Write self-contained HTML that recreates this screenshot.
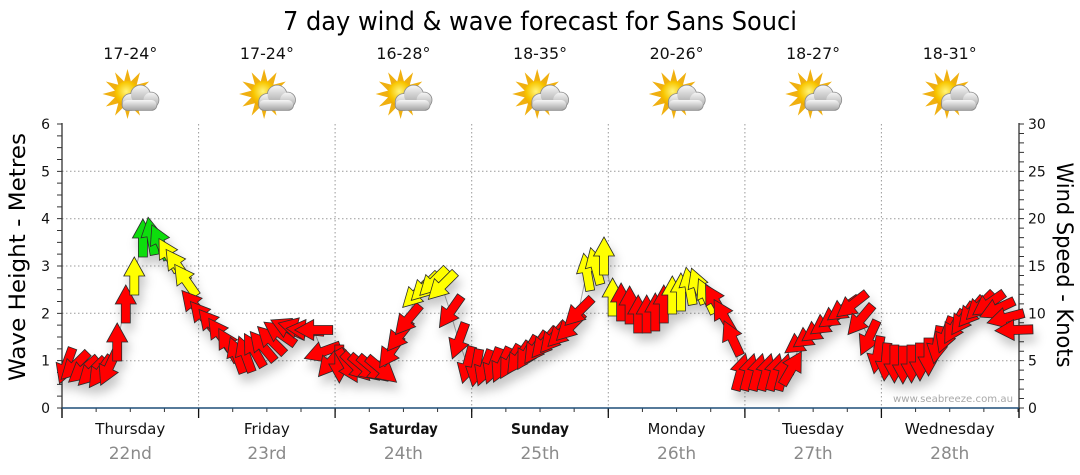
<!DOCTYPE html>
<html><head><meta charset="utf-8"><style>
html,body{margin:0;padding:0;background:#fff;}
svg{display:block;}
</style></head><body>
<svg width="1080" height="475" viewBox="0 0 1080 475" xmlns="http://www.w3.org/2000/svg" font-family="'DejaVu Sans','Liberation Sans',sans-serif">
<defs>
<path id="ar" d="M0,-19 L10.5,0 L4.5,0 L4.5,19 L-4.5,19 L-4.5,0 L-10.5,0 Z"/>
<filter id="sh" x="-10%" y="-20%" width="125%" height="150%"><feDropShadow dx="3" dy="8" stdDeviation="5" flood-color="#000" flood-opacity="0.22"/></filter>
<radialGradient id="sun" cx="0.45" cy="0.4" r="0.6"><stop offset="0" stop-color="#fff47a"/><stop offset="0.6" stop-color="#f8c600"/><stop offset="1" stop-color="#eda000"/></radialGradient>
<linearGradient id="cl" x1="0" y1="0" x2="0" y2="1"><stop offset="0" stop-color="#f6f6f6"/><stop offset="1" stop-color="#a6a6a6"/></linearGradient>
<g id="icon">
<polygon fill="#f0b010" points="0,-25 3.36,-12.56 12.5,-21.65 9.19,-9.19 21.65,-12.5 12.56,-3.36 25,0 12.56,3.36 21.65,12.5 9.19,9.19 12.5,21.65 3.36,12.56 0,25 -3.36,12.56 -12.5,21.65 -9.19,9.19 -21.65,12.5 -12.56,3.36 -25,0 -12.56,-3.36 -21.65,-12.5 -9.19,-9.19 -12.5,-21.65 -3.36,-12.56"/>
<circle r="13" fill="url(#sun)"/>
<g stroke="#8a8a8a" stroke-width="1.6" fill="#8a8a8a">
<circle cx="3" cy="8" r="8"/><circle cx="13" cy="1" r="9.5"/><circle cx="23.5" cy="6" r="7.5"/><rect x="-5" y="6" width="34" height="10" rx="5"/>
</g>
<g fill="url(#cl)">
<circle cx="3" cy="8" r="8"/><circle cx="13" cy="1" r="9.5"/><circle cx="23.5" cy="6" r="7.5"/><rect x="-5" y="6" width="34" height="10" rx="5"/>
</g>
</g>
</defs>

<!-- title -->
<text x="540" y="30" font-size="26" text-anchor="middle" textLength="514" lengthAdjust="spacingAndGlyphs" fill="#000">7 day wind &amp; wave forecast for Sans Souci</text>

<!-- temps -->
<g font-size="16" text-anchor="middle" fill="#111">
<text x="130.3" y="59" textLength="54" lengthAdjust="spacingAndGlyphs">17-24°</text>
<text x="266.9" y="59" textLength="54" lengthAdjust="spacingAndGlyphs">17-24°</text>
<text x="403.4" y="59" textLength="54" lengthAdjust="spacingAndGlyphs">16-28°</text>
<text x="540.0" y="59" textLength="54" lengthAdjust="spacingAndGlyphs">18-35°</text>
<text x="676.6" y="59" textLength="54" lengthAdjust="spacingAndGlyphs">20-26°</text>
<text x="813.1" y="59" textLength="54" lengthAdjust="spacingAndGlyphs">18-27°</text>
<text x="949.7" y="59" textLength="54" lengthAdjust="spacingAndGlyphs">18-31°</text>
</g>

<!-- icons -->
<use href="#icon" transform="translate(127.5 94)"/>
<use href="#icon" transform="translate(264.1 94)"/>
<use href="#icon" transform="translate(400.6 94)"/>
<use href="#icon" transform="translate(537.2 94)"/>
<use href="#icon" transform="translate(673.8 94)"/>
<use href="#icon" transform="translate(810.3 94)"/>
<use href="#icon" transform="translate(946.9 94)"/>

<!-- grid -->
<g stroke="#9a9a9a" stroke-width="1" stroke-dasharray="1.5 2.5" fill="none">
<line x1="62" y1="360.7" x2="1019" y2="360.7"/>
<line x1="62" y1="313.3" x2="1019" y2="313.3"/>
<line x1="62" y1="266" x2="1019" y2="266"/>
<line x1="62" y1="218.7" x2="1019" y2="218.7"/>
<line x1="62" y1="171.3" x2="1019" y2="171.3"/>
<line x1="198.6" y1="124" x2="198.6" y2="408"/>
<line x1="335.1" y1="124" x2="335.1" y2="408"/>
<line x1="471.7" y1="124" x2="471.7" y2="408"/>
<line x1="608.3" y1="124" x2="608.3" y2="408"/>
<line x1="744.9" y1="124" x2="744.9" y2="408"/>
<line x1="881.4" y1="124" x2="881.4" y2="408"/>
</g>

<!-- axes -->
<line x1="62" y1="123" x2="62" y2="418" stroke="#222" stroke-width="1.2"/>
<line x1="1019" y1="123" x2="1019" y2="418" stroke="#222" stroke-width="1.2"/>
<line x1="59.5" y1="408.5" x2="59.5" y2="123" stroke="#333" stroke-width="5" stroke-dasharray="1 10.8333"/>
<line x1="1021.5" y1="408.5" x2="1021.5" y2="123" stroke="#333" stroke-width="5" stroke-dasharray="1 8.4667"/>
<line x1="61.5" y1="410" x2="1020" y2="410" stroke="#333" stroke-width="4" stroke-dasharray="1 33.143"/>
<g stroke="#111" stroke-width="1.3">
<line x1="62" y1="408" x2="62" y2="418"/>
<line x1="198.6" y1="408" x2="198.6" y2="418"/>
<line x1="335.1" y1="408" x2="335.1" y2="418"/>
<line x1="471.7" y1="408" x2="471.7" y2="418"/>
<line x1="608.3" y1="408" x2="608.3" y2="418"/>
<line x1="744.9" y1="408" x2="744.9" y2="418"/>
<line x1="881.4" y1="408" x2="881.4" y2="418"/>
<line x1="1019" y1="408" x2="1019" y2="418"/>
</g>
<line x1="62" y1="408" x2="1019" y2="408" stroke="#1f4e79" stroke-width="1.6"/>

<!-- tick labels -->
<g font-size="14" fill="#111" text-anchor="end">
<text x="50" y="413">0</text><text x="50" y="365.7">1</text><text x="50" y="318.3">2</text><text x="50" y="271">3</text><text x="50" y="223.7">4</text><text x="50" y="176.3">5</text><text x="50" y="129">6</text>
</g>
<g font-size="14" fill="#111">
<text x="1028" y="413">0</text><text x="1028" y="365.7">5</text><text x="1028" y="318.3">10</text><text x="1028" y="271">15</text><text x="1028" y="223.7">20</text><text x="1028" y="176.3">25</text><text x="1028" y="129">30</text>
</g>

<!-- axis titles -->
<text transform="translate(25 257) rotate(-90)" font-size="22" text-anchor="middle" textLength="248" lengthAdjust="spacingAndGlyphs" fill="#000">Wave Height - Metres</text>
<text transform="translate(1057 265) rotate(90)" font-size="22" text-anchor="middle" textLength="205" lengthAdjust="spacingAndGlyphs" fill="#000">Wind Speed - Knots</text>

<!-- day labels -->
<g font-size="15" text-anchor="middle" fill="#111">
<text x="130.3" y="434" textLength="70" lengthAdjust="spacingAndGlyphs">Thursday</text>
<text x="266.9" y="434" textLength="46" lengthAdjust="spacingAndGlyphs">Friday</text>
<text x="403.4" y="434" font-weight="bold" textLength="69" lengthAdjust="spacingAndGlyphs">Saturday</text>
<text x="540.0" y="434" font-weight="bold" textLength="58" lengthAdjust="spacingAndGlyphs">Sunday</text>
<text x="676.6" y="434" textLength="58" lengthAdjust="spacingAndGlyphs">Monday</text>
<text x="813.1" y="434" textLength="62" lengthAdjust="spacingAndGlyphs">Tuesday</text>
<text x="949.7" y="434" textLength="90" lengthAdjust="spacingAndGlyphs">Wednesday</text>
</g>
<g font-size="17" text-anchor="middle" fill="#8a8a8a">
<text x="130.3" y="459">22nd</text>
<text x="266.9" y="459">23rd</text>
<text x="403.4" y="459">24th</text>
<text x="540.0" y="459">25th</text>
<text x="676.6" y="459">26th</text>
<text x="813.1" y="459">27th</text>
<text x="949.7" y="459">28th</text>
</g>

<!-- watermark -->
<text x="893" y="402" font-size="10" fill="#a8a8a8" textLength="120" lengthAdjust="spacingAndGlyphs">www.seabreeze.com.au</text>

<!-- connecting line -->
<polyline fill="none" stroke="#aaa" stroke-width="1" points="66,366 74.5,366 83.1,370 91.6,372 100.2,372 108.7,368 117.2,342 125.8,304 134.3,276 142.9,238 151.4,236 159.9,242 168.5,255 177,265 185.6,280 194.1,305 202.6,316 211.2,324 219.7,334 228.3,345 236.8,355 245.3,354 253.9,350 262.4,346 271,340 279.5,333 288,328 296.6,328 305.1,330 313.7,330 322.2,352 330.7,362 339.3,364 347.8,366 356.4,367 364.9,368 373.4,369 382,370 390.5,352 399.1,336 407.6,320 416.1,294 424.7,287 433.2,282 441.8,286 450.3,312 458.8,341 467.4,365 475.9,368 484.5,368 493,366 501.5,365 510.1,362 518.6,358 527.2,353 535.7,348 544.2,343 552.8,338 561.3,333 569.9,327 578.4,312 586.9,272 595.5,266 604,256 612.6,297 621.1,302 629.6,305 638.2,314 646.7,314 655.3,312 663.8,304 672.3,295 680.9,292 689.4,286 698,286 706.5,296 715,301 723.6,316 732.1,338 740.7,372 749.2,372 757.7,372 766.3,372 774.8,372 783.4,372 791.9,368 800.4,342 809,336 817.5,330 826.1,323 834.6,316 843.1,309 851.7,305 860.2,320 868.8,338 877.3,355 885.8,362 894.4,364 902.9,365 911.5,364 920,362 928.5,357 937.1,345 945.6,335 954.2,327 962.7,319 971.2,312 979.8,306 988.3,304 996.9,309 1005.4,318 1013.9,330"/>

<!-- arrows -->
<g filter="url(#sh)" stroke="#2a2a2a" stroke-width="0.8" stroke-linejoin="miter">
<use href="#ar" fill="#ff0000" transform="translate(66 366) rotate(200)"/>
<use href="#ar" fill="#ff0000" transform="translate(74.5 366) rotate(225)"/>
<use href="#ar" fill="#ff0000" transform="translate(83.1 370) rotate(230)"/>
<use href="#ar" fill="#ff0000" transform="translate(91.6 372) rotate(225)"/>
<use href="#ar" fill="#ff0000" transform="translate(100.2 372) rotate(215)"/>
<use href="#ar" fill="#ff0000" transform="translate(108.7 368) rotate(205)"/>
<use href="#ar" fill="#ff0000" transform="translate(117.2 342) rotate(0)"/>
<use href="#ar" fill="#ff0000" transform="translate(125.8 304) rotate(0)"/>
<use href="#ar" fill="#ffff00" transform="translate(134.3 276) rotate(0)"/>
<use href="#ar" fill="#11dd11" transform="translate(142.9 238) rotate(0)"/>
<use href="#ar" fill="#11dd11" transform="translate(151.4 236) rotate(-10)"/>
<use href="#ar" fill="#11dd11" transform="translate(159.9 242) rotate(-25)"/>
<use href="#ar" fill="#ffff00" transform="translate(168.5 255) rotate(-30)"/>
<use href="#ar" fill="#ffff00" transform="translate(177 265) rotate(-35)"/>
<use href="#ar" fill="#ffff00" transform="translate(185.6 280) rotate(-35)"/>
<use href="#ar" fill="#ff0000" transform="translate(194.1 305) rotate(-40)"/>
<use href="#ar" fill="#ff0000" transform="translate(202.6 316) rotate(-40)"/>
<use href="#ar" fill="#ff0000" transform="translate(211.2 324) rotate(-40)"/>
<use href="#ar" fill="#ff0000" transform="translate(219.7 334) rotate(-35)"/>
<use href="#ar" fill="#ff0000" transform="translate(228.3 345) rotate(-30)"/>
<use href="#ar" fill="#ff0000" transform="translate(236.8 355) rotate(-20)"/>
<use href="#ar" fill="#ff0000" transform="translate(245.3 354) rotate(-20)"/>
<use href="#ar" fill="#ff0000" transform="translate(253.9 350) rotate(-30)"/>
<use href="#ar" fill="#ff0000" transform="translate(262.4 346) rotate(-40)"/>
<use href="#ar" fill="#ff0000" transform="translate(271 340) rotate(-45)"/>
<use href="#ar" fill="#ff0000" transform="translate(279.5 333) rotate(-55)"/>
<use href="#ar" fill="#ff0000" transform="translate(288 328) rotate(-65)"/>
<use href="#ar" fill="#ff0000" transform="translate(296.6 328) rotate(-75)"/>
<use href="#ar" fill="#ff0000" transform="translate(305.1 330) rotate(-85)"/>
<use href="#ar" fill="#ff0000" transform="translate(313.7 330) rotate(-90)"/>
<use href="#ar" fill="#ff0000" transform="translate(322.2 352) rotate(-110)"/>
<use href="#ar" fill="#ff0000" transform="translate(330.7 362) rotate(-140)"/>
<use href="#ar" fill="#ff0000" transform="translate(339.3 364) rotate(180)"/>
<use href="#ar" fill="#ff0000" transform="translate(347.8 366) rotate(150)"/>
<use href="#ar" fill="#ff0000" transform="translate(356.4 367) rotate(135)"/>
<use href="#ar" fill="#ff0000" transform="translate(364.9 368) rotate(130)"/>
<use href="#ar" fill="#ff0000" transform="translate(373.4 369) rotate(130)"/>
<use href="#ar" fill="#ff0000" transform="translate(382 370) rotate(130)"/>
<use href="#ar" fill="#ff0000" transform="translate(390.5 352) rotate(215)"/>
<use href="#ar" fill="#ff0000" transform="translate(399.1 336) rotate(218)"/>
<use href="#ar" fill="#ff0000" transform="translate(407.6 320) rotate(220)"/>
<use href="#ar" fill="#ffff00" transform="translate(416.1 294) rotate(225)"/>
<use href="#ar" fill="#ffff00" transform="translate(424.7 287) rotate(225)"/>
<use href="#ar" fill="#ffff00" transform="translate(433.2 282) rotate(225)"/>
<use href="#ar" fill="#ffff00" transform="translate(441.8 286) rotate(225)"/>
<use href="#ar" fill="#ff0000" transform="translate(450.3 312) rotate(215)"/>
<use href="#ar" fill="#ff0000" transform="translate(458.8 341) rotate(200)"/>
<use href="#ar" fill="#ff0000" transform="translate(467.4 365) rotate(195)"/>
<use href="#ar" fill="#ff0000" transform="translate(475.9 368) rotate(190)"/>
<use href="#ar" fill="#ff0000" transform="translate(484.5 368) rotate(200)"/>
<use href="#ar" fill="#ff0000" transform="translate(493 366) rotate(200)"/>
<use href="#ar" fill="#ff0000" transform="translate(501.5 365) rotate(205)"/>
<use href="#ar" fill="#ff0000" transform="translate(510.1 362) rotate(210)"/>
<use href="#ar" fill="#ff0000" transform="translate(518.6 358) rotate(215)"/>
<use href="#ar" fill="#ff0000" transform="translate(527.2 353) rotate(210)"/>
<use href="#ar" fill="#ff0000" transform="translate(535.7 348) rotate(215)"/>
<use href="#ar" fill="#ff0000" transform="translate(544.2 343) rotate(220)"/>
<use href="#ar" fill="#ff0000" transform="translate(552.8 338) rotate(220)"/>
<use href="#ar" fill="#ff0000" transform="translate(561.3 333) rotate(225)"/>
<use href="#ar" fill="#ff0000" transform="translate(569.9 327) rotate(225)"/>
<use href="#ar" fill="#ff0000" transform="translate(578.4 312) rotate(225)"/>
<use href="#ar" fill="#ffff00" transform="translate(586.9 272) rotate(-10)"/>
<use href="#ar" fill="#ffff00" transform="translate(595.5 266) rotate(-15)"/>
<use href="#ar" fill="#ffff00" transform="translate(604 256) rotate(0)"/>
<use href="#ar" fill="#ffff00" transform="translate(612.6 297) rotate(0)"/>
<use href="#ar" fill="#ff0000" transform="translate(621.1 302) rotate(0)"/>
<use href="#ar" fill="#ff0000" transform="translate(629.6 305) rotate(0)"/>
<use href="#ar" fill="#ff0000" transform="translate(638.2 314) rotate(0)"/>
<use href="#ar" fill="#ff0000" transform="translate(646.7 314) rotate(0)"/>
<use href="#ar" fill="#ff0000" transform="translate(655.3 312) rotate(0)"/>
<use href="#ar" fill="#ff0000" transform="translate(663.8 304) rotate(0)"/>
<use href="#ar" fill="#ffff00" transform="translate(672.3 295) rotate(0)"/>
<use href="#ar" fill="#ffff00" transform="translate(680.9 292) rotate(0)"/>
<use href="#ar" fill="#ffff00" transform="translate(689.4 286) rotate(-10)"/>
<use href="#ar" fill="#ffff00" transform="translate(698 286) rotate(-20)"/>
<use href="#ar" fill="#ffff00" transform="translate(706.5 296) rotate(-25)"/>
<use href="#ar" fill="#ff0000" transform="translate(715 301) rotate(-30)"/>
<use href="#ar" fill="#ff0000" transform="translate(723.6 316) rotate(-30)"/>
<use href="#ar" fill="#ff0000" transform="translate(732.1 338) rotate(-25)"/>
<use href="#ar" fill="#ff0000" transform="translate(740.7 372) rotate(15)"/>
<use href="#ar" fill="#ff0000" transform="translate(749.2 372) rotate(15)"/>
<use href="#ar" fill="#ff0000" transform="translate(757.7 372) rotate(15)"/>
<use href="#ar" fill="#ff0000" transform="translate(766.3 372) rotate(15)"/>
<use href="#ar" fill="#ff0000" transform="translate(774.8 372) rotate(15)"/>
<use href="#ar" fill="#ff0000" transform="translate(783.4 372) rotate(15)"/>
<use href="#ar" fill="#ff0000" transform="translate(791.9 368) rotate(30)"/>
<use href="#ar" fill="#ff0000" transform="translate(800.4 342) rotate(235)"/>
<use href="#ar" fill="#ff0000" transform="translate(809 336) rotate(235)"/>
<use href="#ar" fill="#ff0000" transform="translate(817.5 330) rotate(235)"/>
<use href="#ar" fill="#ff0000" transform="translate(826.1 323) rotate(235)"/>
<use href="#ar" fill="#ff0000" transform="translate(834.6 316) rotate(235)"/>
<use href="#ar" fill="#ff0000" transform="translate(843.1 309) rotate(235)"/>
<use href="#ar" fill="#ff0000" transform="translate(851.7 305) rotate(232)"/>
<use href="#ar" fill="#ff0000" transform="translate(860.2 320) rotate(220)"/>
<use href="#ar" fill="#ff0000" transform="translate(868.8 338) rotate(205)"/>
<use href="#ar" fill="#ff0000" transform="translate(877.3 355) rotate(190)"/>
<use href="#ar" fill="#ff0000" transform="translate(885.8 362) rotate(185)"/>
<use href="#ar" fill="#ff0000" transform="translate(894.4 364) rotate(180)"/>
<use href="#ar" fill="#ff0000" transform="translate(902.9 365) rotate(180)"/>
<use href="#ar" fill="#ff0000" transform="translate(911.5 364) rotate(180)"/>
<use href="#ar" fill="#ff0000" transform="translate(920 362) rotate(180)"/>
<use href="#ar" fill="#ff0000" transform="translate(928.5 357) rotate(180)"/>
<use href="#ar" fill="#ff0000" transform="translate(937.1 345) rotate(190)"/>
<use href="#ar" fill="#ff0000" transform="translate(945.6 335) rotate(200)"/>
<use href="#ar" fill="#ff0000" transform="translate(954.2 327) rotate(210)"/>
<use href="#ar" fill="#ff0000" transform="translate(962.7 319) rotate(215)"/>
<use href="#ar" fill="#ff0000" transform="translate(971.2 312) rotate(220)"/>
<use href="#ar" fill="#ff0000" transform="translate(979.8 306) rotate(225)"/>
<use href="#ar" fill="#ff0000" transform="translate(988.3 304) rotate(235)"/>
<use href="#ar" fill="#ff0000" transform="translate(996.9 309) rotate(245)"/>
<use href="#ar" fill="#ff0000" transform="translate(1005.4 318) rotate(255)"/>
<use href="#ar" fill="#ff0000" transform="translate(1013.9 330) rotate(268)"/>
</g>
</svg>
</body></html>
